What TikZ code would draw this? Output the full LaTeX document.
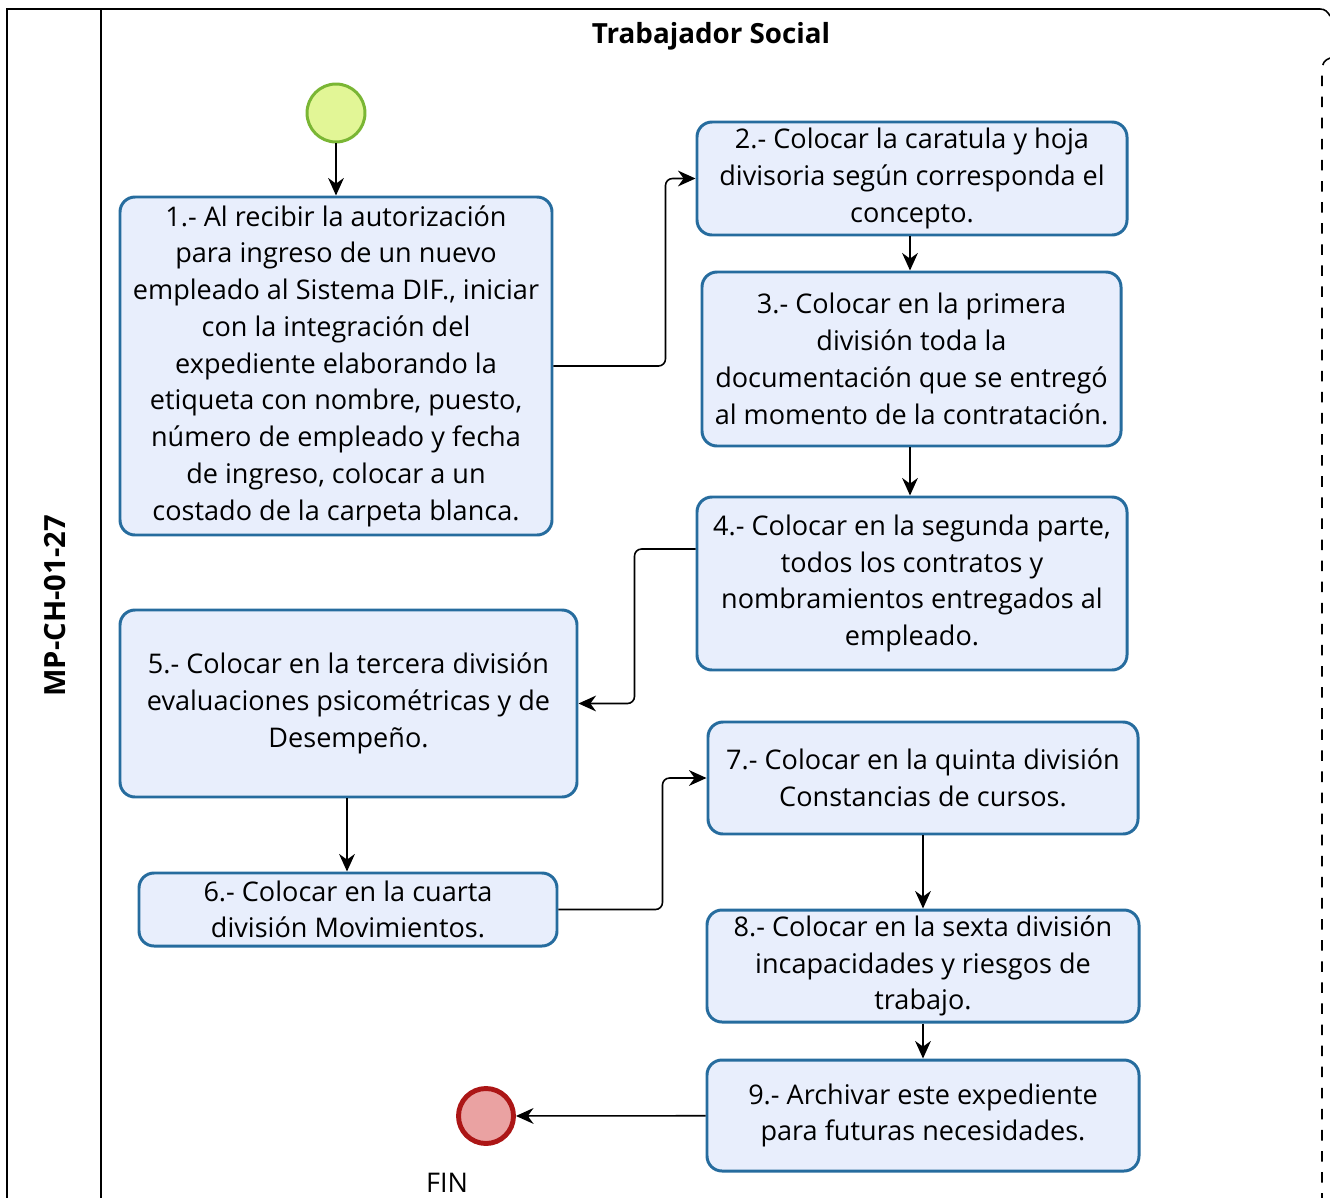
\documentclass[tikz,border=0pt]{standalone}
\usepackage{fontspec}
\setmainfont{Open Sans}
\usetikzlibrary{arrows.meta}

\definecolor{bordepaso}{RGB}{38,108,158}
\definecolor{fondopaso}{RGB}{232,238,252}
\definecolor{bordeinicio}{RGB}{122,182,52}
\definecolor{fondoinicio}{RGB}{226,246,150}
\definecolor{bordefin}{RGB}{172,22,22}
\definecolor{fondofin}{RGB}{234,162,162}

\begin{document}
\begin{tikzpicture}[
   paso/.style={draw=bordepaso, fill=fondopaso, line width=0.85pt, rounded corners=0.15cm,
      align=center, inner sep=0pt, font=\fontsize{7.7}{10.45}\selectfont},
   flecha/.style={-{Stealth[length=5pt,width=4.5pt]}, line width=0.45pt, rounded corners=2pt},
   ]
   \useasboundingbox (0,0) rectangle (13.30,-11.98);
   % marco de la piscina
   \draw[line width=0.45pt] (0.07,-11.98) -- (0.07,-0.09) -- (13.20,-0.09)
      .. controls (13.25,-0.09) and (13.28,-0.12) .. (13.30,-0.16);
   \draw[line width=0.45pt] (1.01,-0.09) -- (1.01,-11.98);
   \draw[line width=0.45pt, dashed] (13.30,-0.58) .. controls (13.25,-0.60) and (13.22,-0.63) .. (13.22,-0.70) -- (13.22,-11.98);
   \node (titulo) at (7.11,-0.36) {\fontsize{7.9}{9.5}\selectfont\bfseries Trabajador Social};
   \node[rotate=90] (codigo) at (0.55,-6.06) {\fontsize{8.3}{10}\selectfont\bfseries MP-CH-01-27};

   % eventos
   \node[circle, draw=bordeinicio, fill=fondoinicio, line width=0.85pt, minimum size=0.58cm, inner sep=0pt] (inicio) at (3.36,-1.13) {};
   \node[circle, draw=bordefin, fill=fondofin, line width=1.4pt, minimum size=0.55cm, inner sep=0pt] (fin) at (4.86,-11.16) {};
   \node[font=\fontsize{7.7}{9}\selectfont] (etiquetafin) at (4.47,-11.83) {FIN};

   % actividades
   \node[paso, minimum width=4.32cm, minimum height=3.38cm] (paso1) at (3.36,-3.66)
      {1.- Al recibir la autorización\\para ingreso de un nuevo\\empleado al Sistema DIF., iniciar\\con la integración del\\expediente elaborando la\\etiqueta con nombre, puesto,\\número de empleado y fecha\\de ingreso, colocar a un\\costado de la carpeta blanca.};
   \node[paso, minimum width=4.30cm, minimum height=1.13cm] (paso2) at (9.12,-1.785)
      {2.- Colocar la caratula y hoja\\divisoria según corresponda el\\concepto.};
   \node[paso, minimum width=4.19cm, minimum height=1.74cm] (paso3) at (9.115,-3.59)
      {3.- Colocar en la primera\\división toda la\\documentación que se entregó\\al momento de la contratación.};
   \node[paso, minimum width=4.30cm, minimum height=1.73cm] (paso4) at (9.12,-5.835)
      {4.- Colocar en la segunda parte,\\todos los contratos y\\nombramientos entregados al\\empleado.};
   \node[paso, minimum width=4.57cm, minimum height=1.87cm] (paso5) at (3.485,-7.035)
      {5.- Colocar en la tercera división\\evaluaciones psicométricas y de\\Desempeño.};
   \node[paso, minimum width=4.18cm, minimum height=0.73cm] (paso6) at (3.48,-9.095)
      {6.- Colocar en la cuarta\\división Movimientos.};
   \node[paso, minimum width=4.30cm, minimum height=1.12cm] (paso7) at (9.23,-7.78)
      {7.- Colocar en la quinta división\\Constancias de cursos.};
   \node[paso, minimum width=4.32cm, minimum height=1.12cm] (paso8) at (9.23,-9.66)
      {8.- Colocar en la sexta división\\incapacidades y riesgos de\\trabajo.};
   \node[paso, minimum width=4.32cm, minimum height=1.11cm] (paso9) at (9.23,-11.155)
      {9.- Archivar este expediente\\para futuras necesidades.};

   % flujo
   \draw[flecha] (inicio) -- (paso1);
   \draw[flecha] (paso1.east) -- ++(1.12,0) |- (paso2.west);
   \draw[flecha] (paso2.south -| 9.10,0) -- (paso3.north -| 9.10,0);
   \draw[flecha] (paso3.south -| 9.10,0) -- (paso4.north -| 9.10,0);
   \draw[flecha] ([yshift=0.345cm]paso4.west) -- ++(-0.61,0) |- (paso5.east);
   \draw[flecha] (paso5.south -| 3.47,0) -- (paso6.north -| 3.47,0);
   \draw[flecha] (paso6.east) -- ++(1.04,0) |- (paso7.west);
   \draw[flecha] (paso7) -- (paso8);
   \draw[flecha] (paso8) -- (paso9);
   \draw[flecha] (paso9) -- (fin);
\end{tikzpicture}
\end{document}
